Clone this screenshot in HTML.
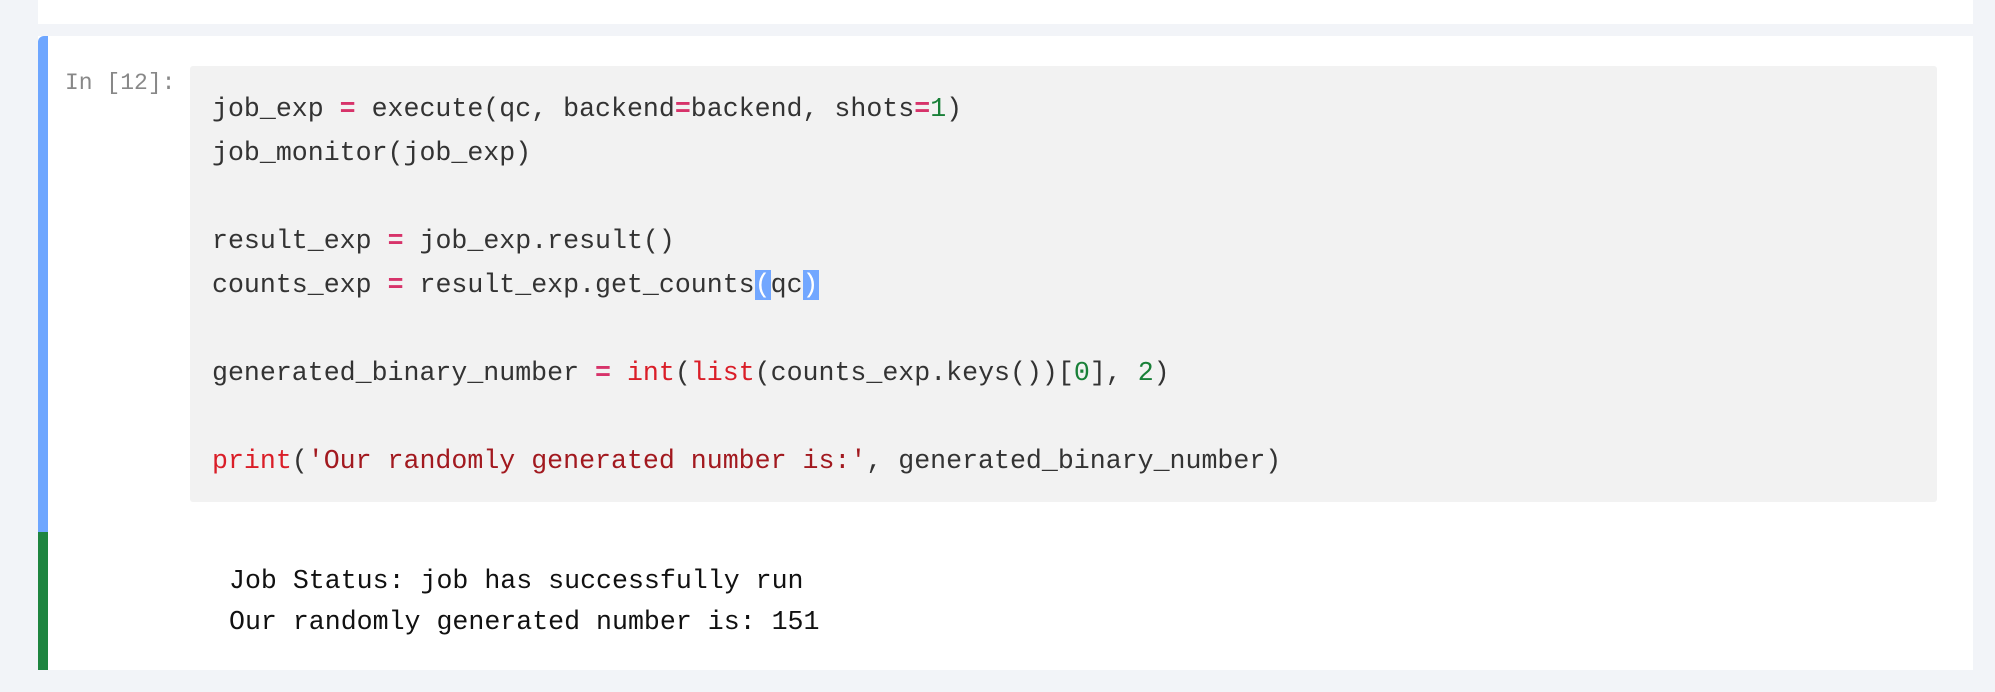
<!DOCTYPE html>
<html><head><meta charset="utf-8"><style>
html,body{margin:0;padding:0;}
body{width:1995px;height:692px;background:#f2f4f8;position:relative;overflow:hidden;font-family:"Liberation Mono",monospace;}
.top{position:absolute;left:38px;top:0;width:1935px;height:24px;background:#fff;}
.cell{position:absolute;left:38px;top:36px;width:1935px;height:634px;background:#fff;}
.blue{position:absolute;left:38px;top:36px;width:10px;height:496px;background:#6ea6ff;border-top-left-radius:6px;}
.green{position:absolute;left:38px;top:532px;width:10px;height:138px;background:#1e8540;}
.prompt{position:absolute;left:65px;top:65px;font-size:23px;color:#888;line-height:36px;}
.code{position:absolute;left:190px;top:66px;width:1747px;height:436px;background:#f2f2f2;border-radius:3px;}
pre{margin:0;font-family:"Liberation Mono",monospace;font-size:26.6px;line-height:44px;white-space:pre;}
.o{color:#d7336a;font-weight:bold;}
.n{color:#198038;}
.b{color:#da1e28;}
.s{color:#a2191f;}
.hl{background:#72a7ff;color:#fff;}
.out{position:absolute;left:229px;top:561px;color:#111;line-height:41px;}
</style></head><body>
<div class="top"></div>
<div class="cell"></div>
<div class="blue"></div>
<div class="green"></div>
<div class="prompt">In [12]:</div>
<div class="code"><pre style="position:absolute;left:22px;top:21px;color:#333;">job_exp <span class="o">=</span> execute(qc, backend<span class="o">=</span>backend, shots<span class="o">=</span><span class="n">1</span>)
job_monitor(job_exp)

result_exp <span class="o">=</span> job_exp.result()
counts_exp <span class="o">=</span> result_exp.get_counts<span class="hl">(</span>qc<span class="hl">)</span>

generated_binary_number <span class="o">=</span> <span class="b">int</span>(<span class="b">list</span>(counts_exp.keys())[<span class="n">0</span>], <span class="n">2</span>)

<span class="b">print</span>(<span class="s">'Our randomly generated number is:'</span>, generated_binary_number)</pre></div>
<pre class="out">Job Status: job has successfully run
Our randomly generated number is: 151</pre>
</body></html>
